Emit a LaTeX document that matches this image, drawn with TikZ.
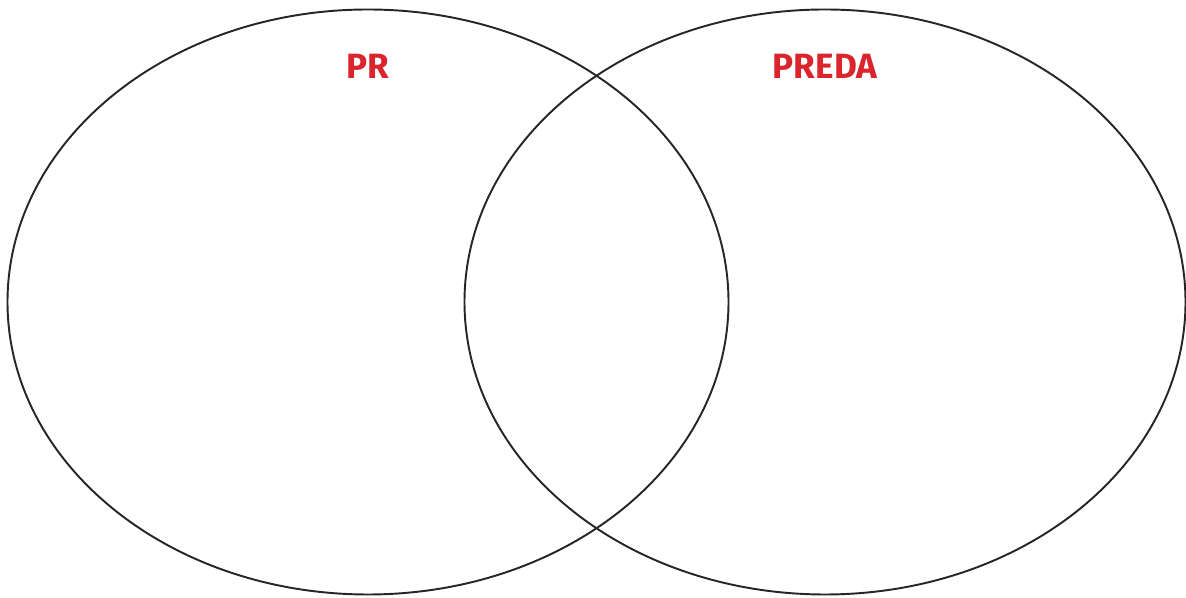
\documentclass[tikz,border=0pt]{standalone}
\usepackage{fontspec}
\setmainfont{Fira Sans}
\usepackage{tikz}
\usetikzlibrary{shapes.geometric, positioning}
\definecolor{setred}{RGB}{218,37,45}

\begin{document}
\begin{tikzpicture}[
            setellipse/.style={
                ellipse, draw=black!85, line width=1.1pt,
                minimum width=14.42cm, minimum height=11.7cm,
                inner sep=0pt
            },
            setlabel/.style={
                text=setred, font=\fontsize{20}{24}\selectfont\bfseries
            }
        ]
            \useasboundingbox (0,0) rectangle (23.72,11.96);
            \node[setellipse] (pr) at (7.36,5.92) {};
            \node[setellipse] (preda) at (16.5,5.92) {};
            \node[setlabel] (prlabel) at (7.36,10.64) {PR};
            \node[setlabel] (predalabel) at (16.5,10.64) {PREDA};
        \end{tikzpicture}
\end{document}
